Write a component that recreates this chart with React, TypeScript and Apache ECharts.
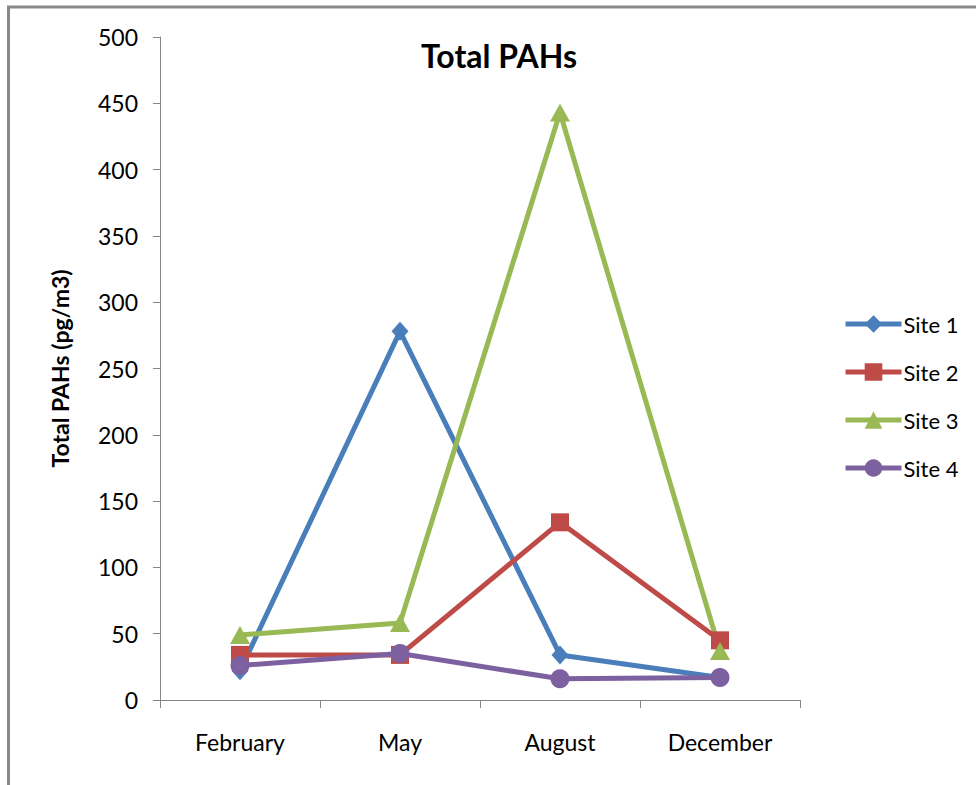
import React, { useEffect, useRef } from "react";
import * as echarts from "echarts";

const categories = ["February", "May", "August", "December"];
const site1 = [22, 278, 34, 17];
const site2 = [34, 34, 134, 45];
const site3 = [49, 58, 443, 37];
const site4 = [26, 35, 16, 17];
const seriesNames = ["Site 1", "Site 2", "Site 3", "Site 4"];
const yMin = 0;
const yMax = 500;
const yInterval = 50;

const FONT = "Lato, 'Open Sans', sans-serif";

export default function App() {
  const ref = useRef<HTMLDivElement>(null);
  useEffect(() => {
    if (!ref.current) return;
    const chart = echarts.init(ref.current, null, { renderer: "svg" });
    const colors = ["#4A7EBB", "#BE4B48", "#98B954", "#7D60A0"];
    const symbols = ["diamond", "rect", "triangle", "circle"];
    const sizes: any[] = [[17, 19], 18, [20, 18], 19];
    const data = [site1, site2, site3, site4];
    chart.setOption({
      animation: false,
      backgroundColor: "#ffffff",
      title: {
        text: "Total PAHs",
        left: 494,
        textAlign: "center",
        top: 34,
        textStyle: { fontFamily: FONT, fontSize: 32, fontWeight: "bold", color: "#000" },
      },
      legend: {
        orient: "vertical",
        left: 838,
        top: 308,
        itemWidth: 56,
        itemHeight: 22,
        itemGap: 26,
        data: seriesNames,
        lineStyle: { width: 5 },
        textStyle: { fontFamily: FONT, fontSize: 22, color: "#000", padding: [0, 0, 0, -3] },
      },
      grid: { left: 160, right: 176, top: 37, bottom: 85, containLabel: false },
      xAxis: {
        type: "category",
        data: categories,
        boundaryGap: true,
        axisLine: { lineStyle: { color: "#868686", width: 1 } },
        axisTick: { show: true, length: 8, alignWithLabel: false, lineStyle: { color: "#868686" } },
        axisLabel: { fontFamily: FONT, fontSize: 23, color: "#000", margin: 30 },
        splitLine: { show: false },
      },
      yAxis: {
        type: "value",
        min: yMin,
        max: yMax,
        interval: yInterval,
        name: "Total PAHs (pg/m3)",
        nameLocation: "middle",
        nameGap: 89,
        nameRotate: 90,
        nameTextStyle: { fontFamily: FONT, fontSize: 23, fontWeight: "bold", color: "#000" },
        axisLine: { show: true, lineStyle: { color: "#868686", width: 1 } },
        axisTick: { show: true, length: 7, lineStyle: { color: "#868686" } },
        axisLabel: { fontFamily: FONT, fontSize: 23, color: "#000", margin: 22 },
        splitLine: { show: false },
      },
      graphic: [
        { type: "line", shape: { x1: 7, y1: 7, x2: 976, y2: 7 }, style: { stroke: "#898989", lineWidth: 3 } },
        { type: "line", shape: { x1: 8.5, y1: 6, x2: 8.5, y2: 785 }, style: { stroke: "#898989", lineWidth: 3 } },
      ],
      series: data.map((d, i) => ({
        name: seriesNames[i],
        type: "line",
        data: d,
        symbol: symbols[i],
        symbolSize: sizes[i],
        showAllSymbol: true,
        lineStyle: { color: colors[i], width: 5 },
        itemStyle: { color: colors[i] },
        emphasis: { disabled: true },
      })),
    });
    return () => chart.dispose();
  }, []);
  return (
    <div
      ref={ref}
      style={{ position: "fixed", left: 0, top: 0, width: 976, height: 785, background: "#fff" }}
    />
  );
}
